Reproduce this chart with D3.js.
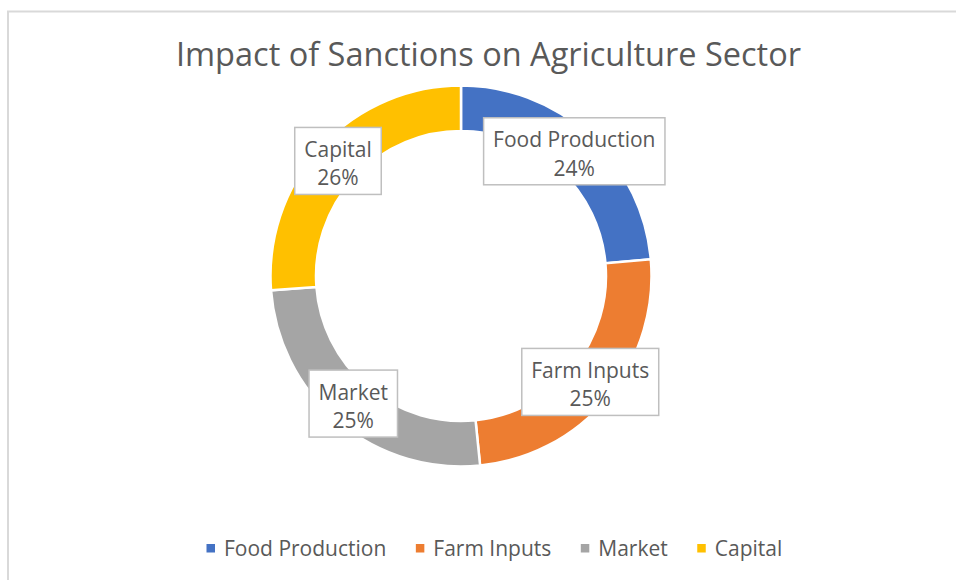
<!DOCTYPE html>
<html>
<head>
<meta charset="utf-8">
<script src="https://cdn.jsdelivr.net/npm/d3@7"></script>
<style>
  html, body { margin: 0; padding: 0; background: #ffffff; }
  svg { display: block; }
  text { font-family: "Open Sans", "Noto Sans", sans-serif; fill: #595959; }
</style>
</head>
<body>
<svg id="chart" width="956" height="580"></svg>
<script>
// Chart data
const title = "Impact of Sanctions on Agriculture Sector";
const categories = ["Food Production", "Farm Inputs", "Market", "Capital"];
const shares = [23.6, 24.8, 25.4, 26.2];
const colors = ["#4472C4", "#ED7D31", "#A5A5A5", "#FFC000"];

const svg = d3.select("#chart");
const W = 956, H = 580;

// Outer chart frame
svg.append("rect")
  .attr("x", 8).attr("y", 11.5)
  .attr("width", W + 20).attr("height", H + 20)
  .attr("fill", "#ffffff")
  .attr("stroke", "#d9d9d9")
  .attr("stroke-width", 2);

// Title
svg.append("text")
  .attr("x", 488.5).attr("y", 66)
  .attr("text-anchor", "middle")
  .style("font-size", "32.5px")
  .text(title);

// Donut
const cx = 461, cy = 276;
const outerR = 190.5, innerR = 145;

const color = d3.scaleOrdinal().domain(categories).range(colors);
const pie = d3.pie().sort(null).value(d => d.value);
const arc = d3.arc().innerRadius(innerR).outerRadius(outerR);

const data = categories.map((c, i) => ({ name: c, value: shares[i] }));
const arcs = pie(data);
const total = d3.sum(shares);
const pct = d3.format(".0%");

const g = svg.append("g").attr("transform", `translate(${cx},${cy})`);

g.selectAll("path.slice")
  .data(arcs)
  .join("path")
  .attr("class", "slice")
  .attr("d", arc)
  .attr("fill", d => color(d.data.name))
  .attr("stroke", "#ffffff")
  .attr("stroke-width", 2.5)
  .attr("stroke-linejoin", "miter");

// Data labels: boxed, centred on each segment's centroid
const labels = g.selectAll("g.label")
  .data(arcs)
  .join("g")
  .attr("class", "label")
  .attr("transform", d => `translate(${arc.centroid(d)})`);

labels.append("rect")
  .attr("fill", "#ffffff")
  .attr("stroke", "#bfbfbf")
  .attr("stroke-width", 1.5);

labels.append("text")
  .attr("class", "name")
  .attr("text-anchor", "middle")
  .attr("y", -5)
  .style("font-size", "21px")
  .text(d => d.data.name);

labels.append("text")
  .attr("class", "value")
  .attr("text-anchor", "middle")
  .attr("y", 23.5)
  .style("font-size", "21px")
  .text(d => pct(d.data.value / total));

const boxH = 67, padX = 9.5;
labels.each(function () {
  const sel = d3.select(this);
  const w = Math.max(
    sel.select("text.name").node().getComputedTextLength(),
    sel.select("text.value").node().getComputedTextLength()
  ) + padX * 2;
  sel.select("rect")
    .attr("x", -w / 2).attr("y", -boxH / 2 - 1)
    .attr("width", w).attr("height", boxH);
});

// Legend
const legend = svg.append("g").attr("class", "legend");
let lx = 206.5;
const markerSize = 8.5, markerY = 544, textY = 556, markerGap = 9, itemGap = 29.5;
categories.forEach((c, i) => {
  legend.append("rect")
    .attr("x", lx).attr("y", markerY)
    .attr("width", markerSize).attr("height", markerSize)
    .attr("fill", color(c));
  const t = legend.append("text")
    .attr("x", lx + markerSize + markerGap).attr("y", textY)
    .style("font-size", "21px")
    .text(c);
  lx += markerSize + markerGap + t.node().getComputedTextLength() + itemGap;
});
</script>
</body>
</html>
